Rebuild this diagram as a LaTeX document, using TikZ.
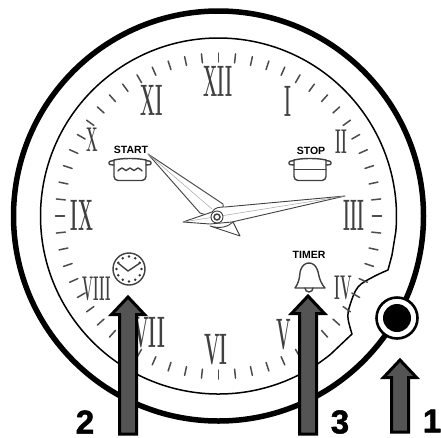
\documentclass[tikz,border=0pt]{standalone}
\usepackage{graphicx}
\usepackage{fontspec}
\newfontfamily\labelfont{Liberation Sans}
\newfontfamily\markfont[BoldFeatures={FakeBold=1.6}]{Liberation Sans}
\usetikzlibrary{calc}
\newcommand{\markarrow}[3]{%
  \draw[markline] (#1-8.5,#3) -- (#1-8.5,#2+17.5) -- (#1-16.5,#2+17.5) -- (#1,#2) -- (#1+16.5,#2+17.5) -- (#1+8.5,#2+17.5) -- (#1+8.5,#3) -- cycle;
}
\newcommand{\potbody}[1]{%
  \draw[iconline,rounded corners=4pt] (#1-16,160) -- (#1-16,180.5) -- (#1+16,180.5) -- (#1+16,160);
  \draw[iconline] (#1-16,160) .. controls (#1-8,158) and (#1+8,158) .. (#1+16,160);
  \draw[iconline,rounded corners=1pt] (#1-16,160.5) -- (#1-21,161.5) -- (#1-21,164.5) -- (#1-16,165);
  \draw[iconline,rounded corners=1pt] (#1+16,160.5) -- (#1+21,161.5) -- (#1+21,164.5) -- (#1+16,165);
}
\begin{document}
\begin{tikzpicture}[x=1pt, y=-1pt, line cap=round, line join=round]
\tikzset{casing/.style={line width=5.5pt}, dialline/.style={line width=1.5pt},
  tickmark/.style={line width=1.5pt, black!70},
  numeral/.style={font=\rmfamily\bfseries\fontsize{44}{44}\selectfont, text=black!75, inner sep=0pt},
  hand/.style={line width=0.9pt, draw=black!75, fill=white}, handmid/.style={line width=0.5pt, black!35},
  iconline/.style={line width=1.4pt, black!75}, icontext/.style={font=\labelfont\bfseries\fontsize{10.5}{10.5}\selectfont, inner sep=0pt},
  markline/.style={line width=3pt, miter limit=4, line join=miter, line cap=butt, draw=black, fill=black!67},
  marktext/.style={font=\markfont\bfseries\fontsize{33}{33}\selectfont, inner sep=0pt}}
\useasboundingbox (0,0) rectangle (441,437);
\fill[white] (0,0) rectangle (441,437);

% casing and dial
\coordinate (C) at (218.5,216);
\draw[casing] (C) circle (205);
\draw[dialline] ($(C)+(51:178)$) arc[start angle=51, end angle=365, radius=178]
  -- (392,255) -- (388,270) -- plot[smooth, tension=0.6] coordinates {(388,270) (373,277) (358,287) (350,305) (348,318) (352,334)} -- ($(C)+(51:178)$);

% minute ticks
\foreach \a in {0,6,...,354}
  \draw[tickmark] ($(C)+(\a:154)$) -- ($(C)+(\a:163)$);

% numerals
\foreach \id/\txt/\px/\py/\sx/\sy in {
  n12/XII/218/81/0.38/1, n11/XI/152/100/0.4/1, n10/X/92/140/0.31/0.78, n9/IX/82/215/0.4/1,
  n8/VIII/97/289/0.295/0.78, n7/VII/149/333/0.42/1, n6/VI/216/350/0.42/1, n5/V/284/335/0.39/1,
  n4/IV/343/288/0.31/0.78, n3/III/354/215/0.365/1, n2/II/341/142/0.31/0.78, n1/I/288/101/0.37/1}
  \node[numeral] (\id) at (\px,\py) {\scalebox{\sx}[\sy]{\txt}};

% hands
\draw[hand] (148,154) -- (200,213) .. controls (215,218) and (225,215) .. (223,204) -- cycle;
\draw[handmid] (148,154) -- (212,209);
\draw[hand] (210,226) .. controls (220,229) and (228,227) .. (233,222) -- (240,236) -- cycle;
\draw[hand] (183,222) -- (212,212) .. controls (215,207) and (220,207) .. (225,207) -- (345,196) -- (232,222) -- (210,224) -- cycle;
\draw[handmid] (183,222) -- (345,196);
\draw[line width=0.9pt, black!75, fill=white] (217,217) circle (6);
\draw[line width=1.5pt, black!75] (217,217) circle (3);

% start and stop icons
\node[icontext] (starttext) at (131,150) {START};
\potbody{130}
\draw[iconline] plot[smooth, tension=0.8] coordinates {(118,171) (122,168) (126,170.5) (130,168) (134,170.5) (138,168) (142,171)};
\node[icontext] (stoptext) at (311,150.5) {STOP};
\potbody{310}
\draw[iconline] (294,169.5) -- (326,169.5);

% clock icon
\draw[iconline, fill=white] (129,269) circle (16);
\foreach \a in {0,30,...,330}
  \fill[black!80] ($(129,269)+(\a:12.5)$) circle (1.4);
\draw[iconline] (118,263) -- (128,271) -- (140,263);

% timer icon
\node[icontext] (timertext) at (309,254.5) {TIMER};
\draw[iconline] (295,288) -- (325,288) .. controls (318,280) and (319,272) .. (317,269) .. controls (314,261) and (304,261) .. (301,269) .. controls (299,272) and (301,280) .. (295,288);
\draw[iconline] (305,288) arc[start angle=180, end angle=0, radius=4];

% knob
\draw[line width=2.6pt, fill=white] (397,318) circle (20.5);
\fill (397,318) circle (14);

% arrows
\markarrow{128}{297}{434}
\markarrow{308}{296}{434}
\markarrow{400}{360}{432}
\node[marktext] (mark2) at (85,422) {2};
\node[marktext] (mark3) at (340,422) {3};
\node[marktext] (mark1) at (432,421) {1};
\end{tikzpicture}
\end{document}
